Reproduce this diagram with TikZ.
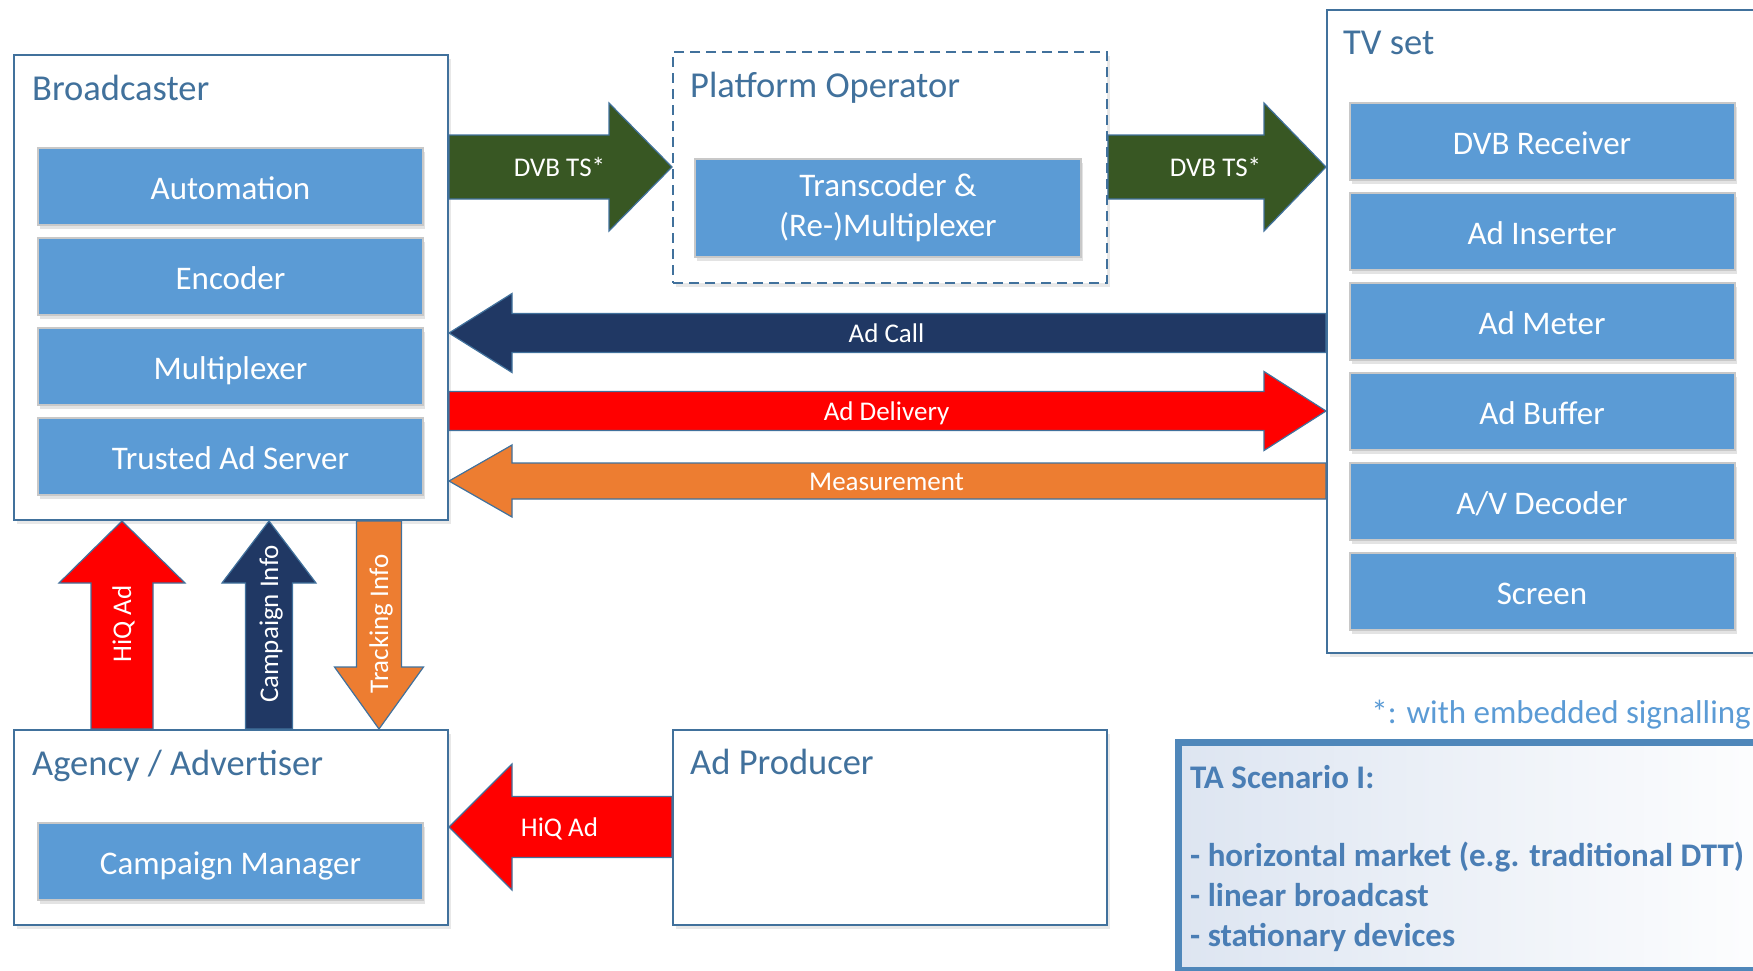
\documentclass[tikz,border=0pt]{standalone}
\usepackage{fontspec}
\setmainfont{Carlito}
\usetikzlibrary{calc,shadows,positioning}

\definecolor{boxline}{HTML}{41719C}
\definecolor{unitfill}{HTML}{5B9BD5}
\definecolor{unitline}{HTML}{C8C8C8}
\definecolor{dvbgreen}{HTML}{385723}
\definecolor{callnavy}{HTML}{203864}
\definecolor{adred}{HTML}{FF0000}
\definecolor{measorange}{HTML}{ED7D31}
\definecolor{tablue}{HTML}{4A7EB5}
\definecolor{taframe}{HTML}{4F87BA}
\definecolor{tashade}{HTML}{DDE5F1}
\definecolor{footblue}{HTML}{5B9BD5}

\tikzset{
  outer/.style={draw=boxline, line width=2pt, fill=white, anchor=north west,
    inner sep=0pt, minimum width=434pt, minimum height=195pt,
    drop shadow={shadow xshift=3pt, shadow yshift=-4pt, opacity=.18}},
  title/.style={anchor=base west, inner sep=0pt, text=boxline,
    font=\fontsize{36.5}{42}\selectfont},
  unit/.style={draw=unitline, line width=2pt, fill=unitfill, text=white,
    inner sep=0pt, minimum width=385pt, minimum height=77pt, align=center,
    font=\fontsize{33}{40}\selectfont,
    drop shadow={shadow xshift=2pt, shadow yshift=-4pt, opacity=.22}},
  oneline/.style={text height=25pt, text depth=0pt},
  lbl/.style={text=white, inner sep=0pt, text height=18pt, text depth=0pt,
    font=\fontsize{27}{32}\selectfont},
  % block arrow: shaft half width, head half width, head length
  flow/.style n args={3}{draw=boxline, line width=1.2pt, to path={
    let \p1=(\tikztostart), \p2=(\tikztotarget),
        \p3=($(\p2)!#3!(\p1)$) in
    ($(\p1)!#1!90:(\p2)$) -- ($(\p3)!#1!-90:(\p1)$) -- ($(\p3)!#2!-90:(\p1)$)
    -- (\p2) -- ($(\p3)!#2!90:(\p1)$) -- ($(\p3)!#1!90:(\p1)$)
    -- ($(\p1)!#1!-90:(\p2)$) -- cycle}}
}

\begin{document}
\begin{tikzpicture}[x=1pt, y=-1pt]
\useasboundingbox (0,0) rectangle (1753,970);
\clip (0,0) rectangle (1753,970);

% parties
\node[outer, minimum height=465pt] (bc) at (13,54) {};
\node[outer, minimum height=231pt, dash pattern=on 10pt off 6pt] (po) at (672,51) {};
\node[outer, minimum width=460pt, minimum height=643pt] (tv) at (1326,9) {};
\node[outer] (ag) at (13,729) {};
\node[outer] (ap) at (672,729) {};

\node[title] (bcT) at (32,100) {Broadcaster};
\node[title] (poT) at (690,97) {Platform Operator};
\node[title] (tvT) at (1343,54) {TV set};
\node[title] (agT) at (32,775) {Agency / Advertiser};
\node[title] (apT) at (690,774) {Ad Producer};

% units
\foreach \name/\txt [count=\i from 0] in {auto/Automation, enc/Encoder,
    mux/Multiplexer, tas/Trusted Ad Server}
  \node[unit, oneline] (\name) at (230.5,186.5+90*\i) {\txt};
\node[unit, minimum width=386pt, minimum height=98pt] (trans) at (888,208)
  {Transcoder \&\\(Re-)Multiplexer};
\foreach \name/\txt [count=\i from 0] in {rx/DVB Receiver, ins/Ad Inserter,
    met/Ad Meter, buf/Ad Buffer, dec/{A/V Decoder}, scr/Screen}
  \node[unit, oneline] (\name) at (1542,141.5+90*\i) {\txt};
\node[unit, oneline] (cm) at (230.5,861.5) {Campaign Manager};

% flows
\draw[flow={32pt}{64pt}{63pt}, fill=dvbgreen] (bc.east |- 0,167) to (po.west |- 0,167);
\draw[flow={32pt}{64pt}{62pt}, fill=dvbgreen] (po.east |- 0,167) to (tv.west |- 0,167);
\draw[flow={19.5pt}{39.5pt}{63pt}, fill=callnavy] (tv.west |- 0,333) to (bc.east |- 0,333);
\draw[flow={19.5pt}{39.5pt}{62pt}, fill=adred] (bc.east |- 0,411) to (tv.west |- 0,411);
\draw[flow={18pt}{36pt}{63pt}, fill=measorange] (tv.west |- 0,481) to (bc.east |- 0,481);
\draw[flow={31pt}{63pt}{62pt}, fill=adred] (ag.north -| 122,0) to (bc.south -| 122,0);
\draw[flow={23.5pt}{47pt}{62pt}, fill=callnavy] (ag.north -| 269,0) to (bc.south -| 269,0);
\draw[flow={22.5pt}{44.5pt}{62pt}, fill=measorange] (bc.south -| 379,0) to (ag.north -| 379,0);
\draw[flow={30.5pt}{63pt}{63pt}, fill=adred] (ap.west |- 0,827) to (ag.east |- 0,827);

\node[lbl] (dvb1) at (559.5,167) {DVB TS*};
\node[lbl] (dvb2) at (1215.5,167) {DVB TS*};
\node[lbl] (call) at (886.5,333) {Ad Call};
\node[lbl] (deliv) at (886.5,411) {Ad Delivery};
\node[lbl] (meas) at (886.5,481) {Measurement};
\node[lbl, rotate=90] (hiq1) at (122,624) {HiQ Ad};
\node[lbl, rotate=90] (camp) at (269,624) {Campaign Info};
\node[lbl, rotate=90] (track) at (379,624) {Tracking Info};
\node[lbl] (hiq2) at (559.5,827) {HiQ Ad};

% notes
\node[anchor=base east, inner sep=0pt, text=footblue,
  font=\fontsize{33}{39}\selectfont] (fn) at (1751,723) {*: with embedded signalling};
\node[draw=taframe, line width=7pt, left color=tashade, right color=white,
  anchor=north west, minimum width=620pt, minimum height=228pt] (ta) at (1175,739) {};
\node[anchor=north west, inner sep=0pt, align=left, text=tablue,
  font=\bfseries\fontsize{33}{40}\selectfont] (taT) at (1190,765)
  {TA Scenario I:\\[38pt]- horizontal market (e.g. traditional DTT)\\- linear broadcast\\- stationary devices};
\end{tikzpicture}
\end{document}
